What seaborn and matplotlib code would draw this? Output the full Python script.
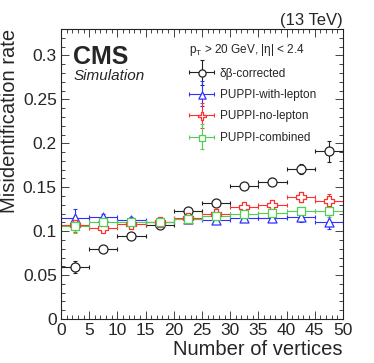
import numpy as np
import pandas as pd
import seaborn as sns
import matplotlib.pyplot as plt
from matplotlib.ticker import MultipleLocator, FuncFormatter
from matplotlib.container import ErrorbarContainer
from matplotlib.legend_handler import HandlerErrorbar, HandlerTuple

# Bins of number of vertices (width 5)
nvtx = [2.5, 7.5, 12.5, 17.5, 22.5, 27.5, 32.5, 37.5, 42.5, 47.5]
half_width = 2.5

# Misidentification rate per algorithm
rate_db = [0.059, 0.0795, 0.0943, 0.1076, 0.1227, 0.1326, 0.1515, 0.1564, 0.171, 0.191]
err_db = [0.007, 0.003, 0.003, 0.003, 0.003, 0.003, 0.003, 0.004, 0.006, 0.012]

rate_with = [0.115, 0.116, 0.113, 0.111, 0.114, 0.1125, 0.1155, 0.1155, 0.116, 0.1106]
err_with = [0.010, 0.003, 0.003, 0.003, 0.003, 0.003, 0.003, 0.004, 0.005, 0.008]

rate_no = [0.107, 0.1038, 0.1087, 0.111, 0.1155, 0.119, 0.1276, 0.130, 0.139, 0.1345]
err_no = [0.008, 0.003, 0.003, 0.003, 0.003, 0.003, 0.003, 0.004, 0.006, 0.008]

rate_comb = [0.1057, 0.1106, 0.1106, 0.111, 0.114, 0.117, 0.120, 0.1208, 0.1227, 0.1227]
err_comb = [0.008, 0.003, 0.003, 0.003, 0.003, 0.003, 0.003, 0.004, 0.005, 0.006]

labels = ["δβ-corrected", "PUPPI-with-lepton", "PUPPI-no-lepton", "PUPPI-combined"]

sns.set_style("ticks")
plt.rcParams['font.family'] = ['Liberation Sans', 'DejaVu Sans']
plt.rcParams['mathtext.fontset'] = 'custom'
plt.rcParams['mathtext.rm'] = 'Liberation Sans'
plt.rcParams['mathtext.it'] = 'Liberation Sans:italic'

fig = plt.figure(figsize=(3.74, 3.63), dpi=100)
ax = fig.add_axes([0.163, 0.121, 0.754, 0.799])

series = [
    (rate_db, err_db, "#222222", "o", 42),
    (rate_with, err_with, "#3030ff", "^", 42),
    (rate_no, err_no, "#ff3030", "P", 50),
    (rate_comb, err_comb, "#50d050", "s", 34),
]

handles = []
for (vals, errs, color, marker, size), lab in zip(series, labels):
    df = pd.DataFrame({"nvtx": nvtx, "rate": vals})
    eb = ax.errorbar(df["nvtx"], df["rate"], xerr=half_width, yerr=errs, fmt="none",
                     ecolor=color, elinewidth=0.8, capsize=1.5, capthick=0.8, zorder=2)
    sns.scatterplot(data=df, x="nvtx", y="rate", marker=marker, s=size, color=color,
                    facecolor="white", edgecolor=color, linewidth=0.9, ax=ax, zorder=3)
    sc = ax.collections[-1]
    handles.append((eb, sc))

ax.set_xlim(0, 50)
ax.set_ylim(0, 0.33)
ax.xaxis.set_major_locator(MultipleLocator(5))
ax.xaxis.set_minor_locator(MultipleLocator(1))
ax.yaxis.set_major_locator(MultipleLocator(0.05))
ax.yaxis.set_minor_locator(MultipleLocator(0.01))
ax.yaxis.set_major_formatter(FuncFormatter(lambda v, p: "%g" % round(v, 3)))
ax.tick_params(which="both", direction="in", top=True, right=True, width=0.7, color="#444444")
ax.tick_params(which="major", length=5.5, labelsize=12.5, pad=3)
ax.tick_params(which="minor", length=3)
for sp in ax.spines.values():
    sp.set_linewidth(0.8)
    sp.set_color("#222222")

ax.set_xlabel("Number of vertices", fontsize=14.5, loc="right", labelpad=1)
ax.set_ylabel("Misidentification rate", fontsize=14.5, loc="top", labelpad=3)

ax.text(0.043, 0.945, "CMS", transform=ax.transAxes, fontsize=18, fontweight="bold", va="top")
ax.text(0.043, 0.862, "Simulation", transform=ax.transAxes, fontsize=11, style="italic", va="top")
ax.text(1.0, 1.014, "(13 TeV)", transform=ax.transAxes, fontsize=12, ha="right", va="baseline")

leg = ax.legend(handles, labels, loc="upper left", bbox_to_anchor=(0.455, 0.955),
                frameon=False, fontsize=8.5, title=r"p$_\mathrm{T}$ > 20 GeV, |η| < 2.4",
                title_fontsize=8.5, alignment="left", borderpad=0, borderaxespad=0,
                handlelength=2.1, handletextpad=0.5, labelspacing=0.8, scatterpoints=1,
                markerscale=0.8,
                handler_map={ErrorbarContainer: HandlerErrorbar(xerr_size=1.05),
                             tuple: HandlerTuple(ndivide=1)})

fig.savefig("out.png", dpi=100)
